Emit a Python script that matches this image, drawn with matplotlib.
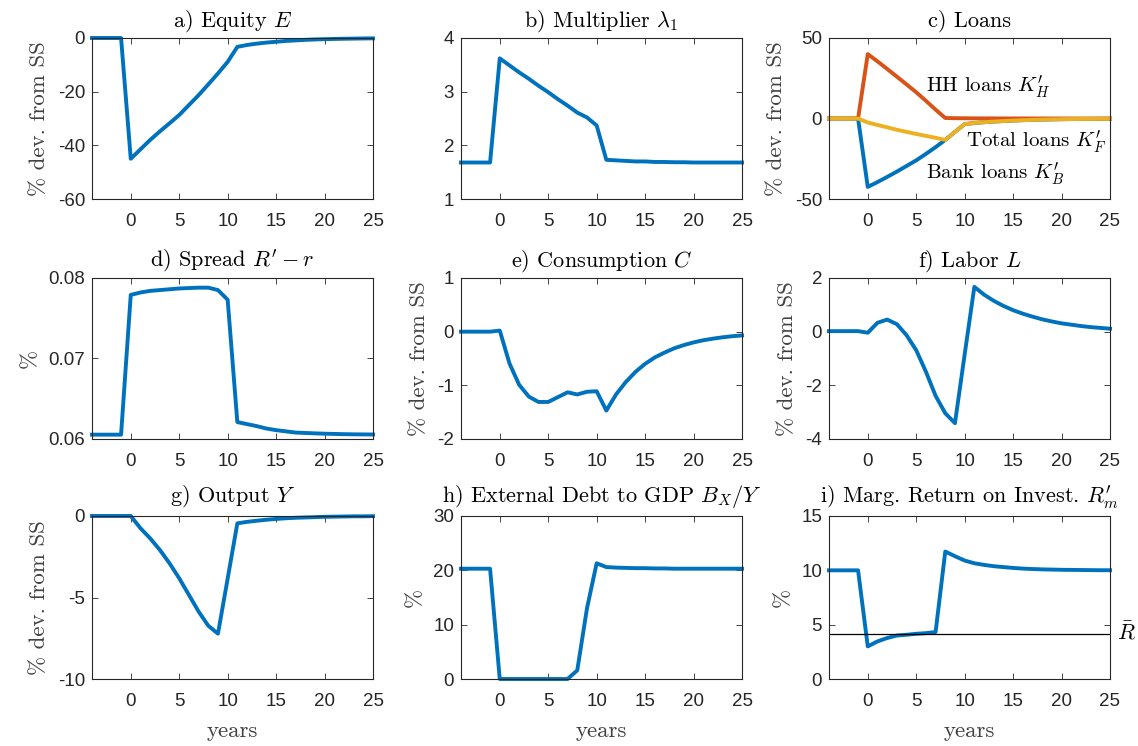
import matplotlib
matplotlib.use('Agg')
import matplotlib.pyplot as plt
import numpy as np

plt.rcParams['mathtext.fontset'] = 'cm'
plt.rcParams['axes.unicode_minus'] = False
plt.rcParams['font.family'] = ['Liberation Sans', 'DejaVu Sans']

## Impulse responses, years -4..25
years = np.arange(-4, 26)

equity = [0, 0, 0, 0,
          -45, -41.5, -38, -34.8, -31.8, -28.7, -25, -21.3, -17.3, -13.2, -8.9,
          -3.3, -2.6, -2.1, -1.7, -1.4, -1.1, -0.9, -0.7, -0.55, -0.45, -0.35,
          -0.28, -0.22, -0.17, -0.13]
lambda1 = [1.68, 1.68, 1.68, 1.68,
           3.62, 3.49, 3.36, 3.24, 3.11, 2.99, 2.86, 2.74, 2.61, 2.52, 2.37,
           1.73, 1.72, 1.71, 1.70, 1.70, 1.69, 1.69, 1.685, 1.685, 1.68, 1.68,
           1.68, 1.68, 1.68, 1.68]
bank_loans = [0, 0, 0, 0,
              -42.5, -39.5, -36.3, -33, -29.5, -26, -22, -17.8, -13.3, -8.3, -3.5,
              -2.8, -2.3, -1.9, -1.6, -1.3, -1.05, -0.85, -0.7, -0.55, -0.45, -0.35,
              -0.3, -0.25, -0.2, -0.15]
hh_loans = [0, 0, 0, 0,
            40, 35.5, 30.8, 26, 21.2, 16.3, 11, 5.5, 0.3, 0.2, 0.15,
            0.1, 0.08, 0.06, 0.05, 0.04, 0.03, 0.02, 0.02, 0.01, 0.01, 0.01,
            0, 0, 0, 0]
total_loans = [0, 0, 0, 0,
               -2.5, -4, -5.5, -7, -8.3, -9.6, -10.8, -12, -13.3, -8.3, -3.5,
               -2.8, -2.3, -1.9, -1.6, -1.3, -1.05, -0.85, -0.7, -0.55, -0.45, -0.35,
               -0.3, -0.25, -0.2, -0.15]
spread = [0.06054, 0.06054, 0.06054, 0.06054,
          0.0779, 0.0782, 0.0784, 0.0785, 0.0786, 0.0787, 0.07875, 0.0788, 0.0788,
          0.0785, 0.0773,
          0.0621, 0.06185, 0.0616, 0.0613, 0.0611, 0.06095, 0.0608, 0.06075, 0.0607,
          0.06066, 0.06063, 0.0606, 0.06058, 0.06057, 0.06056]
consumption = [0, 0, 0, 0,
               0.02, -0.59, -0.99, -1.21, -1.31, -1.31, -1.22, -1.13, -1.17, -1.12,
               -1.11, -1.47,
               -1.17, -0.94, -0.75, -0.6, -0.48, -0.39, -0.31, -0.25, -0.2, -0.16,
               -0.13, -0.105, -0.085, -0.07]
labor = [0.02, 0.02, 0.02, 0.02,
         -0.04, 0.33, 0.45, 0.28, -0.13, -0.69, -1.49, -2.39, -3.04, -3.41, -0.85,
         1.67,
         1.38, 1.15, 0.96, 0.8, 0.67, 0.56, 0.46, 0.38, 0.31, 0.26, 0.21, 0.17,
         0.14, 0.11]
output = [0, 0, 0, 0,
          0, -0.75, -1.37, -2.08, -2.9, -3.82, -4.84, -5.86, -6.73, -7.22, -3.84,
          -0.45,
          -0.36, -0.29, -0.23, -0.18, -0.14, -0.11, -0.09, -0.07, -0.05, -0.04,
          -0.03, -0.02, -0.02, -0.01]
debt_gdp = [20.3, 20.3, 20.3, 20.3,
            0, 0, 0, 0, 0, 0, 0, 0, 1.6, 13.0, 21.3, 20.6,
            20.5, 20.45, 20.4, 20.4, 20.35, 20.35, 20.3, 20.3, 20.3, 20.3, 20.3,
            20.3, 20.3, 20.3]
marg_return = [10, 10, 10, 10,
               3.0, 3.46, 3.77, 4.0, 4.07, 4.16, 4.22, 4.32,
               11.73, 11.3, 10.9, 10.65, 10.5, 10.38, 10.3, 10.22, 10.16, 10.12,
               10.09, 10.07, 10.05, 10.04, 10.03, 10.02, 10.01, 10.01]
r_bar = 4.17

xticks = [0, 5, 10, 15, 20, 25]

blue = '#0072BD'
orange = '#D95319'
yellow = '#EDB120'
axcol = '#262626'
serif = 'cmr10'

W, H = 1138, 746
fig = plt.figure(figsize=(W / 100, H / 100), dpi=100)

lefts = [92, 461, 829]
rows = [(38, 161), (278, 161), (516, 163)]


def make_ax(r, c):
    top, h = rows[r]
    ax = fig.add_axes([lefts[c] / W, 1 - (top + h) / H, 281 / W, h / H])
    ax.set_xlim(-4, 25)
    ax.set_xticks(xticks)
    for s in ax.spines.values():
        s.set_color(axcol)
        s.set_linewidth(0.8)
    ax.tick_params(direction='in', top=True, right=True, length=4, width=0.6,
                   color=axcol, labelcolor=axcol, labelsize=13.5)
    ax.tick_params(axis='x', pad=10)
    ax.tick_params(axis='y', pad=5)
    return ax


def style(ax, title, ylabel, ylim, yticks, fmt=None, tpad=8):
    ax.set_title(title, fontfamily=serif, fontsize=16, color='black', pad=tpad)
    ax.set_ylabel(ylabel, fontfamily=serif, fontsize=16.5, color='#404040',
                  labelpad=6)
    ax.set_ylim(*ylim)
    ax.set_yticks(yticks)
    if fmt:
        ax.set_yticklabels([fmt % v for v in yticks])


def years_label(ax):
    ax.set_xlabel('years', fontfamily=serif, fontsize=16.5, color='#404040',
                  labelpad=8)


dev = '% dev. from SS'
pct = '%'

# a) Equity
ax = make_ax(0, 0)
ax.plot(years, equity, color=blue, lw=2.8, clip_on=False)
style(ax, 'a) Equity $E$', dev, (-60, 0), [-60, -40, -20, 0])

# b) Multiplier
ax = make_ax(0, 1)
ax.plot(years, lambda1, color=blue, lw=2.8, clip_on=False)
style(ax, r'b) Multiplier $\lambda_1$', '', (1, 4), [1, 2, 3, 4])

# c) Loans
ax = make_ax(0, 2)
ax.plot(years, bank_loans, color=blue, lw=2.8, clip_on=False)
ax.plot(years, hh_loans, color=orange, lw=2.8, clip_on=False)
ax.plot(years, total_loans, color=yellow, lw=2.8, clip_on=False)
style(ax, 'c) Loans', dev, (-50, 50), [-50, 0, 50])
ax.text(6, 20, r"HH loans $K_H^{\prime}$", fontfamily=serif, fontsize=15,
        va='center')
ax.text(10.1, -14.5, r"Total loans $K_F^{\prime}$", fontfamily=serif,
        fontsize=15, va='center')
ax.text(6, -34, r"Bank loans $K_B^{\prime}$", fontfamily=serif, fontsize=15,
        va='center')

# d) Spread
ax = make_ax(1, 0)
ax.plot(years, spread, color=blue, lw=2.8, clip_on=False)
style(ax, r"d) Spread $R^{\prime} - r$", pct, (0.06, 0.08),
      [0.06, 0.07, 0.08], '%.2f')

# e) Consumption
ax = make_ax(1, 1)
ax.plot(years, consumption, color=blue, lw=2.8, clip_on=False)
style(ax, 'e) Consumption $C$', dev, (-2, 1), [-2, -1, 0, 1])

# f) Labor
ax = make_ax(1, 2)
ax.plot(years, labor, color=blue, lw=2.8, clip_on=False)
style(ax, 'f) Labor $L$', dev, (-4, 2), [-4, -2, 0, 2])

# g) Output
ax = make_ax(2, 0)
ax.plot(years, output, color=blue, lw=2.8, clip_on=False)
style(ax, 'g) Output $Y$', dev, (-10, 0), [-10, -5, 0], tpad=10)
years_label(ax)

# h) External debt to GDP
ax = make_ax(2, 1)
ax.plot(years, debt_gdp, color=blue, lw=2.8, clip_on=False)
style(ax, 'h) External Debt to GDP $B_X/Y$', pct, (0, 30), [0, 10, 20, 30],
      tpad=10)
years_label(ax)

# i) Marginal return on investment
ax = make_ax(2, 2)
ax.plot(years, marg_return, color=blue, lw=2.8, clip_on=False)
ax.axhline(r_bar, color='black', lw=0.9)
style(ax, r"i) Marg. Return on Invest. $R_m^{\prime}$", pct, (0, 15),
      [0, 5, 10, 15], tpad=10)
years_label(ax)
ax.text(1.025, r_bar, r'$\bar{R}$', transform=ax.get_yaxis_transform(),
        fontsize=16, va='center', ha='left')

fig.savefig('out.png', dpi=100)
